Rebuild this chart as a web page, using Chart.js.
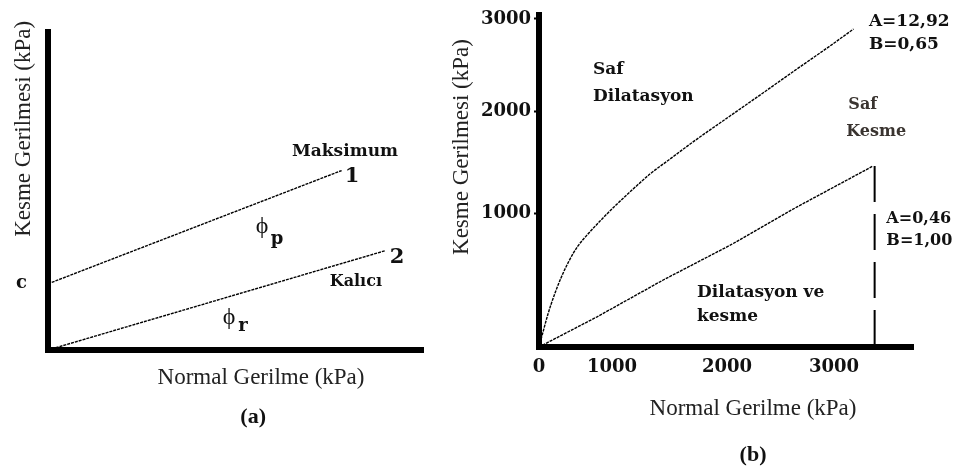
<!DOCTYPE html>
<html>
<head>
<meta charset="utf-8">
<script src="https://cdn.jsdelivr.net/npm/chart.js@4.4.0/dist/chart.umd.min.js"></script>
<style>
  html, body { margin: 0; padding: 0; background: #fff; }
  #wrap { position: relative; width: 955px; height: 472px; }
  #boxA { position: absolute; left: 0; top: 0; width: 440px; height: 472px; }
  #boxB { position: absolute; left: 440px; top: 0; width: 515px; height: 472px; }
</style>
</head>
<body>
<div id="wrap">
  <div id="boxA"><canvas id="chartA"></canvas></div>
  <div id="boxB"><canvas id="chartB"></canvas></div>
</div>
<script>
// (a) schematic, no numbers on the axes (0-100 units)
const peakX = [0, 78.3];
const peakY = [20.8, 56.4];
const residualX = [0, 89.9];
const residualY = [0, 31.2];
const cohesion = 20.8;

// (b) values, kPa
const curveSigma = [0, 55, 123, 205, 301, 411, 534, 671, 836, 1026, 1174, 1330, 1504, 1739, 2028, 2336, 2654, 2963, 3173];
const curveTau = [0, 112, 246, 381, 515, 642, 754, 843, 940, 1069, 1225, 1382, 1529, 1725, 1951, 2196, 2457, 2707, 2891];
const lineSigma = [0, 795, 1445, 2030, 2655, 3345];
const lineTau = [0, 225, 500, 760, 1060, 1460];
const limitSigma = [3360, 3360];
const limitTau = [1460, 0];
const xTicksB = [0, 1000, 2000, 3000];
const yTicksB = [1000, 2000, 3000];

const zip = (xs, ys) => xs.map((v, i) => ({ x: v, y: ys[i] }));

// the figure's axes are hand drawn, tick spacing is not even
class WarpedScale extends Chart.LinearScale {
  toFrac(v) {
    const { values, stops } = this.options.warp;
    let i = 1;
    while (i < values.length - 1 && v > values[i]) i++;
    return stops[i - 1] + (v - values[i - 1]) / (values[i] - values[i - 1]) * (stops[i] - stops[i - 1]);
  }
  fromFrac(f) {
    const { values, stops } = this.options.warp;
    let i = 1;
    while (i < stops.length - 1 && f > stops[i]) i++;
    return values[i - 1] + (f - stops[i - 1]) / (stops[i] - stops[i - 1]) * (values[i] - values[i - 1]);
  }
  getPixelForValue(value) {
    if (value === null || value === undefined) return NaN;
    return this.getPixelForDecimal(this.toFrac(value));
  }
  getValueForPixel(pixel) {
    return this.fromFrac(this.getDecimalForPixel(pixel));
  }
}
WarpedScale.id = 'warped';
WarpedScale.defaults = Chart.LinearScale.defaults;
Chart.register(WarpedScale);

function textPlugin(items) {
  return {
    id: 'panelText',
    afterDraw(chart) {
      const { ctx, scales } = chart;
      items.forEach(t => {
        ctx.save();
        ctx.font = t.font;
        ctx.fillStyle = t.color || '#111';
        ctx.textAlign = t.align || 'center';
        ctx.textBaseline = 'middle';
        ctx.translate(scales.x.getPixelForValue(t.x), scales.y.getPixelForValue(t.y));
        if (t.rotate) ctx.rotate(t.rotate * Math.PI / 180);
        ctx.fillText(t.text, 0, 0);
        ctx.restore();
      });
    }
  };
}

const serifTitle = '23px "Liberation Serif"';
const boldNote = 'bold 17px "DejaVu Serif"';
const smallNote = 'bold 16px "DejaVu Serif"';
const caption = 'bold 22px "Liberation Serif"';
const tickFont = { family: 'DejaVu Serif', weight: 'bold', size: 18 };

const thinLine = {
  borderColor: '#000',
  borderWidth: 1.4,
  borderDash: [3, 1],
  pointRadius: 0,
  fill: false,
  tension: 0
};

const axisBorder = { display: true, color: '#000', width: 6 };

// ---------- (a)
new Chart(document.getElementById('chartA'), {
  type: 'line',
  data: {
    datasets: [
      { data: zip(peakX, peakY), ...thinLine },
      { data: zip(residualX, residualY), ...thinLine }
    ]
  },
  options: {
    responsive: true,
    maintainAspectRatio: false,
    animation: false,
    layout: { padding: { top: 19, right: 17, left: 0, bottom: 0 } },
    plugins: { legend: { display: false }, tooltip: { enabled: false } },
    scales: {
      x: {
        type: 'linear', min: 0, max: 100,
        grid: { display: false, drawTicks: false },
        border: axisBorder,
        ticks: { display: false },
        afterFit: s => { s.height = 122; }
      },
      y: {
        type: 'linear', min: 0, max: 100,
        grid: { display: false, drawTicks: false },
        border: axisBorder,
        ticks: { color: '#111', font: tickFont, padding: 21, callback: () => 'c' },
        afterBuildTicks: s => { s.ticks = [{ value: cohesion }]; },
        afterFit: s => { s.width = 48; }
      }
    }
  },
  plugins: [textPlugin([
    { text: 'Maksimum', x: 79.2, y: 62.5, font: boldNote },
    { text: '1', x: 81.1, y: 54.4, font: 'bold 21px "DejaVu Serif"' },
    { text: '2', x: 93.1, y: 29.0, font: 'bold 21px "DejaVu Serif"' },
    { text: 'Kalıcı', x: 82.1, y: 21.5, font: smallNote },
    { text: 'ϕ', x: 57.1, y: 38.7, font: '24px "Liberation Serif"' },
    { text: 'p', x: 61.1, y: 34.7, font: 'bold 18px "DejaVu Serif"' },
    { text: 'ϕ', x: 48.3, y: 10.3, font: '24px "Liberation Serif"' },
    { text: 'r', x: 52.0, y: 7.3, font: 'bold 18px "DejaVu Serif"' },
    { text: 'Normal Gerilme (kPa)', x: 56.8, y: -8.8, font: serifTitle, color: '#222' },
    { text: 'Kesme Gerilmesi (kPa)', x: -6.4, y: 69.5, font: serifTitle, color: '#222', rotate: -90 },
    { text: '(a)', x: 54.7, y: -21.1, font: caption }
  ])]
});

// ---------- (b)
new Chart(document.getElementById('chartB'), {
  type: 'line',
  data: {
    datasets: [
      { data: zip(curveSigma, curveTau), ...thinLine, cubicInterpolationMode: 'monotone' },
      { data: zip(lineSigma, lineTau), ...thinLine },
      { data: zip(limitSigma, limitTau), borderColor: '#000', borderWidth: 2, borderDash: [36, 12], pointRadius: 0, fill: false }
    ]
  },
  options: {
    responsive: true,
    maintainAspectRatio: false,
    animation: false,
    layout: { padding: { top: 15, right: 42, left: 0, bottom: 0 } },
    plugins: { legend: { display: false }, tooltip: { enabled: false } },
    scales: {
      x: {
        type: 'warped', min: 0, max: 3700,
        warp: { values: [0, 1000, 2000, 3000, 3700], stops: [0, 0.1952, 0.5027, 0.7888, 1] },
        grid: { display: false, drawTicks: false },
        border: axisBorder,
        ticks: { color: '#111', font: tickFont, padding: 10, maxRotation: 0, callback: v => String(v) },
        afterBuildTicks: s => { s.ticks = xTicksB.map(v => ({ value: v })); },
        afterFit: s => { s.height = 125; }
      },
      y: {
        type: 'warped', min: 0, max: 3050,
        warp: { values: [0, 1000, 2000, 3000, 3050], stops: [0, 0.4036, 0.7108, 0.988, 1] },
        grid: { display: true, drawOnChartArea: false, drawTicks: true, tickLength: 5, tickWidth: 2, tickColor: '#000' },
        border: axisBorder,
        ticks: { color: '#111', font: tickFont, padding: 3, callback: v => String(v) },
        afterBuildTicks: s => { s.ticks = yTicksB.map(v => ({ value: v })); },
        afterFit: s => { s.width = 99; }
      }
    }
  },
  plugins: [textPlugin([
    { text: 'Saf', x: 740, y: 2446, font: boldNote, align: 'left' },
    { text: 'Dilatasyon', x: 740, y: 2152, font: boldNote, align: 'left' },
    { text: 'Dilatasyon ve', x: 1739, y: 403, font: boldNote, align: 'left' },
    { text: 'kesme', x: 1739, y: 224, font: boldNote, align: 'left' },
    { text: 'A=12,92', x: 3309, y: 2967, font: boldNote, align: 'left' },
    { text: 'B=0,65', x: 3309, y: 2717, font: boldNote, align: 'left' },
    { text: 'Saf', x: 3127, y: 2065, font: smallNote, align: 'left', color: '#3a3430' },
    { text: 'Kesme', x: 3109, y: 1794, font: smallNote, align: 'left', color: '#3a3430' },
    { text: 'A=0,46', x: 3464, y: 955, font: smallNote, align: 'left' },
    { text: 'B=1,00', x: 3464, y: 791, font: smallNote, align: 'left' },
    { text: 'Normal Gerilme (kPa)', x: 2243, y: -463, font: serifTitle, color: '#222' },
    { text: 'Kesme Gerilmesi (kPa)', x: -1055, y: 1647, font: serifTitle, color: '#222', rotate: -90 },
    { text: '(b)', x: 2243, y: -806, font: caption }
  ])]
});
</script>
</body>
</html>
